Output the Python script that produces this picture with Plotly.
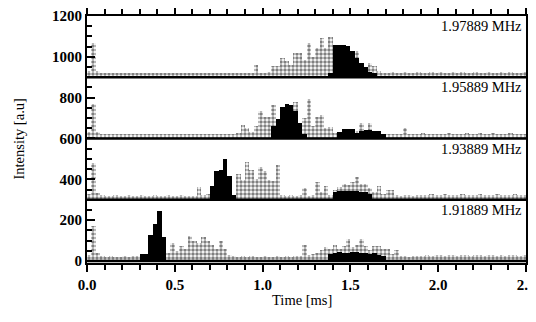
import plotly.graph_objects as go

# ---------------- data ----------------
BIN_WIDTH = 0.025  # ms
N_BINS = 100
TIME = [round(BIN_WIDTH * (i + 0.5), 4) for i in range(N_BINS)]

FREQ_LABELS = ["1.91889 MHz", "1.93889 MHz", "1.95889 MHz", "1.97889 MHz"]
OFFSETS = [0, 300, 600, 900]

# stippled (grey) signal, height above each trace baseline
GREY_1_91889 = [
    30, 170, 40, 22, 20, 25, 20, 18, 22, 20,
    25, 22, 20, 20, 20, 20, 20, 20, 40, 87,
    50, 72, 60, 120, 100, 90, 115, 100, 77, 60,
    100, 60, 30, 22, 20, 25, 20, 22, 20, 18,
    22, 20, 20, 25, 20, 22, 20, 25, 25, 80,
    30, 35, 40, 55, 70, 60, 80, 60, 72, 110,
    70, 80, 110, 72, 55, 75, 75, 60, 60, 35,
    55, 25, 22, 20, 25, 22, 25, 28, 25, 30,
    28, 25, 30, 28, 25, 30, 28, 25, 28, 30,
    25, 28, 30, 25, 28, 25, 28, 30, 25, 28,
]
GREY_1_93889 = [
    30, 180, 35, 22, 20, 20, 22, 20, 20, 22,
    20, 20, 22, 20, 20, 22, 20, 20, 22, 20,
    20, 22, 20, 20, 20, 62, 25, 30, 20, 20,
    20, 20, 20, 20, 124, 95, 183, 148, 100, 158,
    140, 95, 90, 172, 22, 20, 22, 20, 25, 56,
    20, 22, 87, 40, 68, 25, 50, 60, 76, 70,
    87, 110, 76, 76, 55, 40, 68, 30, 50, 50,
    22, 20, 25, 22, 20, 25, 22, 25, 28, 25,
    25, 28, 25, 22, 25, 28, 25, 22, 25, 28,
    25, 22, 25, 28, 25, 22, 25, 28, 25, 22,
]
GREY_1_95889 = [
    30, 170, 30, 20, 22, 20, 20, 22, 20, 20,
    22, 20, 20, 22, 20, 20, 22, 20, 20, 22,
    20, 22, 20, 20, 22, 20, 20, 22, 20, 20,
    22, 20, 22, 20, 25, 65, 50, 30, 60, 137,
    105, 105, 162, 90, 80, 60, 100, 177, 75, 100,
    194, 60, 105, 113, 50, 57, 25, 20, 20, 20,
    25, 35, 75, 40, 75, 25, 22, 20, 20, 20,
    22, 20, 50, 20, 22, 20, 25, 22, 20, 22,
    20, 22, 25, 22, 20, 22, 25, 20, 22, 25,
    22, 20, 25, 22, 20, 22, 25, 20, 22, 20,
]
GREY_1_97889 = [
    30, 170, 30, 20, 22, 20, 22, 20, 20, 22,
    20, 22, 20, 20, 22, 20, 20, 22, 20, 20,
    22, 20, 20, 22, 20, 20, 22, 20, 20, 22,
    20, 20, 22, 20, 20, 22, 20, 20, 62, 22,
    20, 25, 54, 54, 94, 78, 60, 118, 118, 86,
    166, 100, 142, 191, 142, 199, 150, 30, 30, 30,
    30, 127, 60, 45, 70, 54, 30, 22, 20, 25,
    20, 22, 25, 20, 22, 25, 20, 22, 25, 22,
    25, 22, 20, 25, 22, 25, 22, 20, 25, 22,
    22, 25, 22, 20, 25, 22, 25, 22, 20, 25,
]

# solid (black) signal, height above each trace baseline
BLACK_1_91889 = [
    0, 0, 0, 0, 0, 0, 0, 0, 0, 0,
    0, 0, 35, 35, 127, 180, 245, 115, 0, 0,
    0, 0, 0, 0, 0, 0, 0, 0, 0, 0,
    0, 0, 0, 0, 0, 0, 0, 0, 0, 0,
    0, 0, 0, 0, 0, 0, 0, 0, 0, 0,
    0, 0, 0, 0, 0, 35, 40, 45, 40, 38,
    42, 45, 40, 38, 35, 40, 30, 25, 0, 0,
    0, 0, 0, 0, 0, 0, 0, 0, 0, 0,
    0, 0, 0, 0, 0, 0, 0, 0, 0, 0,
    0, 0, 0, 0, 0, 0, 0, 0, 0, 0,
]
BLACK_1_93889 = [
    0, 0, 0, 0, 0, 0, 0, 0, 0, 0,
    0, 0, 0, 0, 0, 0, 0, 0, 0, 0,
    0, 0, 0, 0, 0, 0, 0, 0, 65, 140,
    145, 200, 115, 25, 0, 0, 0, 0, 0, 0,
    0, 0, 0, 0, 0, 0, 0, 0, 0, 0,
    0, 0, 0, 0, 0, 0, 38, 42, 44, 45,
    44, 42, 40, 38, 30, 0, 0, 0, 0, 0,
    0, 0, 0, 0, 0, 0, 0, 0, 0, 0,
    0, 0, 0, 0, 0, 0, 0, 0, 0, 0,
    0, 0, 0, 0, 0, 0, 0, 0, 0, 0,
]
BLACK_1_95889 = [
    0, 0, 0, 0, 0, 0, 0, 0, 0, 0,
    0, 0, 0, 0, 0, 0, 0, 0, 0, 0,
    0, 0, 0, 0, 0, 0, 0, 0, 0, 0,
    0, 0, 0, 0, 0, 0, 0, 0, 0, 0,
    0, 0, 60, 97, 153, 170, 165, 137, 75, 20,
    0, 0, 0, 0, 0, 0, 0, 30, 45, 45,
    45, 25, 38, 40, 40, 38, 35, 20, 0, 0,
    0, 0, 0, 0, 0, 0, 0, 0, 0, 0,
    0, 0, 0, 0, 0, 0, 0, 0, 0, 0,
    0, 0, 0, 0, 0, 0, 0, 0, 0, 0,
]
BLACK_1_97889 = [
    0, 0, 0, 0, 0, 0, 0, 0, 0, 0,
    0, 0, 0, 0, 0, 0, 0, 0, 0, 0,
    0, 0, 0, 0, 0, 0, 0, 0, 0, 0,
    0, 0, 0, 0, 0, 0, 0, 0, 0, 0,
    0, 0, 0, 0, 0, 0, 0, 0, 0, 0,
    0, 0, 0, 0, 0, 20, 159, 159, 159, 155,
    127, 95, 70, 48, 28, 20, 0, 0, 0, 0,
    0, 0, 0, 0, 0, 0, 0, 0, 0, 0,
    0, 0, 0, 0, 0, 0, 0, 0, 0, 0,
    0, 0, 0, 0, 0, 0, 0, 0, 0, 0,
]

GREY = [GREY_1_91889, GREY_1_93889, GREY_1_95889, GREY_1_97889]
BLACK = [BLACK_1_91889, BLACK_1_93889, BLACK_1_95889, BLACK_1_97889]

X_RANGE = [0, 2.5]
Y_RANGE = [-10, 1200]
X_TICKS = [0.0, 0.5, 1.0, 1.5, 2.0, 2.5]
Y_TICKS = [0, 200, 400, 600, 800, 1000, 1200]
LABEL_RISE = 250

# ---------------- figure ----------------
FONT = "Liberation Serif, Times New Roman, serif"
fig = go.Figure()

for off, grey, black, lab in zip(OFFSETS, GREY, BLACK, FREQ_LABELS):
    fig.add_trace(go.Bar(
        x=TIME, y=grey, base=off, width=BIN_WIDTH,
        marker=dict(color="#909090", line=dict(width=0),
                    pattern=dict(shape=".", fgcolor="#000000", bgcolor="#ffffff",
                                 size=4, solidity=0.6)),
        showlegend=False, hoverinfo="skip"))
    fig.add_trace(go.Bar(
        x=TIME, y=black, base=off, width=BIN_WIDTH,
        marker=dict(color="black", line=dict(width=0)),
        showlegend=False, hoverinfo="skip"))
    fig.add_trace(go.Scatter(
        x=X_RANGE, y=[off, off], mode="lines",
        line=dict(color="black", width=2.5),
        showlegend=False, hoverinfo="skip"))
    fig.add_annotation(x=X_RANGE[1], y=off + LABEL_RISE, xref="x", yref="y",
                       text=lab, showarrow=False, xanchor="right", xshift=-2,
                       font=dict(family=FONT, size=14.5, color="black"))

axis_common = dict(showgrid=False, zeroline=False, linecolor="black", automargin=False,
                   ticklabeloverflow="allow", tickcolor="black",
                   tickfont=dict(family=FONT, size=15, color="black", weight="bold"))

fig.update_layout(
    width=536, height=322,
    margin=dict(l=79, r=18, t=8, b=67, autoexpand=False),
    paper_bgcolor="white", plot_bgcolor="white",
    barmode="overlay", bargap=0,
    xaxis=dict(range=X_RANGE, tickvals=X_TICKS, tickformat=".1f",
               ticks="outside", ticklen=7, tickwidth=2,
               minor=dict(dtick=0.1, tick0=0, ticks="outside", ticklen=5, tickwidth=1.5,
                          tickcolor="black"),
               showline=True, linewidth=2, mirror="allticks", **axis_common),
    xaxis2=dict(range=X_RANGE, overlaying="x", side="top", anchor="y",
                tickvals=X_TICKS, ticks="inside", ticklen=5, tickwidth=2,
                minor=dict(dtick=0.1, tick0=0, ticks="inside", ticklen=3, tickwidth=1.5,
                           tickcolor="black"),
                showticklabels=False, showline=False, **axis_common),
    yaxis=dict(range=Y_RANGE, tickvals=Y_TICKS, ticks="inside", ticklen=8, tickwidth=2,
               minor=dict(dtick=50, tick0=0, ticks="inside", ticklen=5, tickwidth=1.5,
                          tickcolor="black"),
               showline=True, linewidth=2, mirror=True, **axis_common),
    yaxis2=dict(range=Y_RANGE, overlaying="y", side="right", anchor="x",
                tick0=0, dtick=60, ticks="inside", ticklen=5, tickwidth=1.5,
                showticklabels=False, showline=False, **axis_common),
    annotations=list(fig.layout.annotations) + [
        dict(text="Time [ms]", xref="paper", yref="paper", x=0.49, y=0,
             yshift=-37, showarrow=False, yanchor="middle",
             font=dict(family=FONT, size=14.5, color="black")),
        dict(text="Intensity [a.u]", xref="paper", yref="paper", x=0, y=0.5,
             xshift=-69, showarrow=False, textangle=-90, xanchor="center",
             font=dict(family=FONT, size=14.5, color="black")),
    ],
)

fig.write_html("out.html")
